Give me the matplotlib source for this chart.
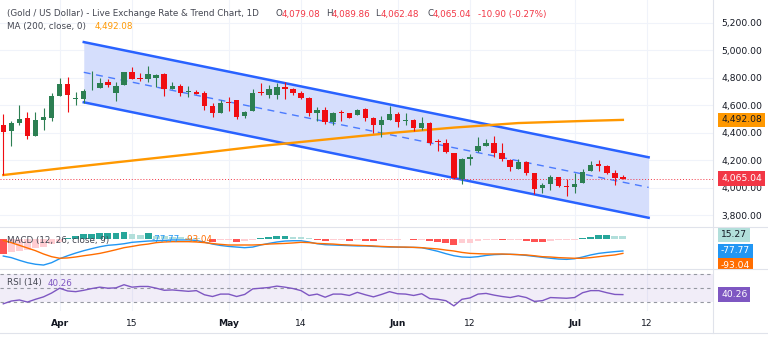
import matplotlib
matplotlib.use("Agg")
import matplotlib.pyplot as plt
import matplotlib.transforms as mtransforms
import numpy as np

# ---- data (daily bars, index 0 = Mar 23) ----
opens = [4455, 4411, 4467, 4503, 4375, 4491, 4508, 4668, 4755, 4645,
         4646, 4716, 4721, 4767, 4685, 4743, 4840, 4797, 4789, 4796,
         4823, 4716, 4738, 4695, 4697, 4685, 4595, 4539, 4624, 4636,
         4520, 4559, 4695, 4673, 4673, 4733, 4714, 4690, 4649, 4539,
         4564, 4479, 4549, 4539, 4527, 4569, 4503, 4455, 4491, 4532,
         4484, 4491, 4435, 4472, 4341, 4326, 4253, 4062, 4207, 4268,
         4302, 4326, 4249, 4200, 4137, 4188, 4103, 3994, 4023, 4074,
         4011, 4001, 4030, 4122, 4171, 4159, 4103, 4079.08]
highs = [4535, 4486, 4600, 4552, 4549, 4576, 4685, 4794, 4801, 4697,
         4719, 4850, 4794, 4789, 4770, 4840, 4874, 4830, 4886, 4826,
         4830, 4765, 4753, 4738, 4709, 4702, 4612, 4636, 4656, 4636,
         4559, 4716, 4758, 4745, 4758, 4765, 4726, 4699, 4661, 4583,
         4583, 4552, 4564, 4544, 4573, 4576, 4515, 4520, 4595, 4552,
         4539, 4496, 4510, 4479, 4350, 4350, 4253, 4212, 4244, 4365,
         4350, 4377, 4321, 4207, 4210, 4193, 4103, 4035, 4089, 4079,
         4060, 4108, 4135, 4193, 4200, 4164, 4127, 4089.86]
lows = [4091, 4302, 4455, 4350, 4375, 4418, 4481, 4668, 4552, 4600,
        4612, 4709, 4721, 4728, 4632, 4743, 4789, 4777, 4770, 4733,
        4668, 4716, 4665, 4661, 4678, 4564, 4510, 4539, 4556, 4498,
        4508, 4559, 4673, 4649, 4644, 4641, 4670, 4644, 4520, 4484,
        4462, 4455, 4486, 4503, 4527, 4486, 4399, 4365, 4491, 4442,
        4455, 4413, 4418, 4309, 4268, 4249, 4062, 4026, 4164, 4261,
        4302, 4219, 4195, 4118, 4137, 4091, 3953, 3962, 3982, 4001,
        3941, 3958, 4030, 4122, 4122, 4098, 4018, 4062.48]
closes = [4401, 4467, 4501, 4377, 4491, 4510, 4668, 4755, 4673, 4652,
          4704, 4720, 4762, 4748, 4741, 4840, 4789, 4792, 4828, 4821,
          4716, 4738, 4690, 4704, 4678, 4593, 4539, 4617, 4612, 4515,
          4552, 4685, 4688, 4714, 4733, 4714, 4685, 4649, 4539, 4564,
          4479, 4539, 4539, 4508, 4564, 4503, 4455, 4491, 4535, 4479,
          4491, 4430, 4472, 4326, 4333, 4261, 4067, 4207, 4219, 4302,
          4321, 4253, 4205, 4152, 4186, 4108, 3989, 4021, 4079, 4011,
          4001, 4023, 4115, 4164, 4159, 4103, 4067, 4065.04]

# 200-day moving average, read at a few bars
ma_idx = [0, 8, 16, 24, 32, 40, 48, 56, 64, 72, 77]
ma_val = [4091, 4145, 4196, 4247, 4302, 4349, 4396, 4436, 4469, 4484, 4492.08]

# trend channel (start bar, end bar, prices)
chan_x = [10, 80.2]
chan_upper = [5058, 4220]
chan_mid = [4838, 4001]
chan_lower = [4620, 3780]

macd = [-110, -120, -137, -152, -162, -167, -152, -127, -108, -91,
        -76, -63, -51, -42, -38, -32, -23, -19, -15, -13,
        -11, -8, -8, -8, -11, -22, -34, -43, -49, -53,
        -57, -53, -40, -30, -21, -15, -13, -13, -21, -32,
        -38, -40, -42, -44, -46, -46, -49, -51, -53, -53,
        -55, -55, -57, -68, -80, -95, -108, -116, -118, -114,
        -106, -101, -99, -99, -101, -106, -112, -118, -124, -129,
        -131, -127, -116, -103, -93, -87, -82, -77.77]
signal = [-11, -25, -42, -59, -76, -97, -114, -124, -122, -116,
          -108, -101, -93, -82, -70, -57, -49, -40, -34, -25,
          -21, -19, -19, -19, -21, -25, -31, -36, -40, -40,
          -40, -40, -38, -34, -32, -30, -27, -23, -25, -30,
          -32, -34, -38, -40, -42, -44, -46, -49, -51, -53,
          -53, -55, -57, -61, -65, -72, -78, -87, -93, -95,
          -97, -97, -97, -99, -101, -103, -108, -114, -116, -120,
          -122, -124, -124, -120, -114, -108, -103, -93.04]
hist = [-99, -82, -78, -72, -61, -51, -36, -19, 6, 17,
        27, 32, 36, 37, 38, 44, 27, 23, 34, 19,
        15, 11, 8, 6, 4, -5, -19, -11, -8, -19,
        -13, -6, 6, 11, 15, 17, 13, 11, 2, -8,
        -15, -11, -8, -15, -8, -12, -15, -11, -8, -6,
        -5, -11, -6, -17, -19, -25, -38, -30, -25, -13,
        -8, -6, -11, -8, -6, -15, -19, -21, -17, -11,
        -8, -6, 4, 13, 21, 22, 17, 15.27]
rsi = [27, 31, 32.5, 29.5, 33.5, 37, 42.5, 49.5, 45.5, 44.5,
       46.5, 49, 51, 49.5, 50, 54.5, 51, 52, 52, 49.5,
       46.5, 47, 46, 45, 46, 40, 37.5, 41, 41, 37.5,
       40.5, 48.5, 49.5, 50.5, 52.5, 51, 49, 46, 39, 41,
       36.5, 41, 41, 39, 43.5, 40, 37, 40.5, 44.5, 41.5,
       41, 39, 41.5, 34.5, 33.5, 31.5, 24, 33.5, 35.5, 41,
       42, 39.5, 37.5, 36, 38.5, 36, 30.5, 31.5, 36, 35.5,
       35, 36, 43, 46, 46, 43, 40.5, 40.26]

tick_pos = [7, 16, 28, 37, 49, 58, 71, 80]
tick_lab = ["Apr", "15", "May", "14", "Jun", "12", "Jul", "12"]
price_ticks = [3800, 4000, 4200, 4400, 4600, 4800, 5000, 5200]

UP = "#2c7f52"
DOWN = "#f00d12"
TXT = "#131722"
GRID = "#f0f3fa"
SEP = "#e0e3eb"

W, H = 768, 344
fig = plt.figure(figsize=(W / 100, H / 100), dpi=100)
plt.rcParams["font.family"] = "DejaVu Sans"


def px(x, y):
    return x / W, 1 - y / H


right = 713 / W
ax = fig.add_axes([0, 1 - 227 / H, right, 227 / H])
axm = fig.add_axes([0, 1 - 269 / H, right, 42 / H], sharex=ax)
axr = fig.add_axes([0, 1 - 311 / H, right, 42 / H], sharex=ax)

n = len(closes)
idx = np.arange(n)
for a in (ax, axm, axr):
    for s in a.spines.values():
        s.set_visible(False)
    a.set_xticks(tick_pos)
    a.grid(axis="x", color=GRID, lw=0.8)
    a.set_axisbelow(True)
    a.tick_params(length=0)
ax.set_xlim(-0.41, 88.2)

# ---- main price panel ----
ax.set_ylim(3713, 5364)
ax.set_yticks(price_ticks)
ax.grid(axis="y", color=GRID, lw=0.8)
ax.yaxis.tick_right()
ax.set_yticklabels([f"{p:,.2f}" for p in price_ticks], color=TXT, fontsize=6.6)
ax.tick_params(axis="y", pad=6)
ax.tick_params(axis="x", labelbottom=False)

ax.fill_between(chan_x, chan_lower, chan_upper, color="#d5defc", lw=0, zorder=1)
ax.plot(chan_x, chan_upper, color="#2962ff", lw=1.8, zorder=2)
ax.plot(chan_x, chan_lower, color="#2962ff", lw=1.8, zorder=2)
ax.plot(chan_x, chan_mid, color="#2962ff", lw=1, ls=(0, (5, 4)), alpha=0.8, zorder=2)

ax.plot(ma_idx, ma_val, color="#ff9800", lw=1.7, zorder=3)
ax.axhline(closes[-1], color="#f23645", lw=0.7, ls=(0, (1, 2)), zorder=2)

for i in range(n):
    c = UP if closes[i] >= opens[i] else DOWN
    ax.vlines(i, lows[i], highs[i], color=c, lw=0.8, zorder=4)
    lo, hi = sorted((opens[i], closes[i]))
    ax.bar(i, max(hi - lo, 4), bottom=lo, width=0.68, color=c, lw=0, zorder=5)

blend = mtransforms.blended_transform_factory(ax.transAxes, ax.transData)
ax.text(1 + 8 / 713, ma_val[-1], f"{ma_val[-1]:,.2f}", transform=blend, ha="left", va="center",
        fontsize=6.6, color=TXT, clip_on=False, zorder=10,
        bbox=dict(boxstyle="square,pad=0.3", fc="#ff9800", ec="none"))
ax.text(1 + 8 / 713, closes[-1], f"{closes[-1]:,.2f}", transform=blend, ha="left", va="center",
        fontsize=6.6, color="white", clip_on=False, zorder=10,
        bbox=dict(boxstyle="square,pad=0.3", fc="#f23645", ec="none"))

# ---- MACD panel ----
axm.set_ylim(-192, 74)
axm.set_yticks([])
axm.tick_params(axis="x", labelbottom=False)
cols = []
for i, h in enumerate(hist):
    prev = hist[i - 1] if i > 0 else h
    if h >= 0:
        cols.append("#26a69a" if h > prev else "#b2dfdb")
    else:
        cols.append("#ffcdd2" if h > prev and i > 0 else "#ff5252")
axm.bar(idx, hist, width=0.85, color=cols, lw=0, zorder=2)
axm.plot(idx, macd, color="#2196f3", lw=1, zorder=3)
axm.plot(idx, signal, color="#ff6d00", lw=1, zorder=3)

bm = mtransforms.blended_transform_factory(axm.transAxes, axm.transData)
axm.text(1 + 8 / 713, hist[-1] + 10, f"{hist[-1]:.2f}", transform=bm, ha="left", va="center",
         fontsize=6.6, color=TXT, clip_on=False, zorder=10,
         bbox=dict(boxstyle="square,pad=0.3", fc="#b2dfdb", ec="none"))
axm.text(1 + 8 / 713, macd[-1], f"{macd[-1]:.2f}", transform=bm, ha="left", va="center",
         fontsize=6.6, color="white", clip_on=False, zorder=10,
         bbox=dict(boxstyle="square,pad=0.3", fc="#2196f3", ec="none"))
low_lab = mtransforms.offset_copy(bm, fig=fig, y=-12, units="dots")
t93 = axm.text(1 + 8 / 713, signal[-1], f"{signal[-1]:.2f}", transform=low_lab, ha="left",
               va="center", fontsize=6.6, color="white", zorder=10,
               bbox=dict(boxstyle="square,pad=0.3", fc="#ff6d00", ec="none"))
clip = mtransforms.TransformedBbox(
    mtransforms.Bbox([[right, 1 - 269 / H], [1, 1 - 227 / H]]), fig.transFigure)
t93.set_clip_on(True)
t93.set_clip_box(clip)
t93._bbox_patch.set_clip_box(clip) if t93.get_bbox_patch() else None

# ---- RSI panel ----
axr.set_ylim(16.6, 77.2)
axr.set_yticks([])
axr.axhspan(30, 70, color="#7e57c2", alpha=0.1, lw=0, zorder=1)
for lvl in (30, 50, 70):
    axr.axhline(lvl, color="#9598a1", lw=0.8, ls=(0, (3, 3)), zorder=2)
axr.plot(idx, rsi, color="#7e57c2", lw=1, zorder=3)
axr.set_xticklabels(tick_lab, fontsize=6.6, color=TXT)
for lab in axr.get_xticklabels():
    if lab.get_text() in ("Apr", "May", "Jun", "Jul"):
        lab.set_fontweight("bold")
axr.tick_params(axis="x", pad=6)
br = mtransforms.blended_transform_factory(axr.transAxes, axr.transData)
axr.text(1 + 8 / 713, rsi[-1], f"{rsi[-1]:.2f}", transform=br, ha="left", va="center",
         fontsize=6.6, color="white", clip_on=False, zorder=10,
         bbox=dict(boxstyle="square,pad=0.3", fc="#7e57c2", ec="none"))

# ---- separators ----
for yy in (227, 269, 333):
    fig.add_artist(plt.Line2D([0, 1], [1 - yy / H] * 2, color=SEP, lw=0.8))
fig.add_artist(plt.Line2D([right, right], [1 - 333 / H, 1], color=SEP, lw=0.8))

# ---- header texts ----
fs = 6.3
fig.text(*px(7, 14), "(Gold / US Dollar) - Live Exchange Rate & Trend Chart, 1D",
         fontsize=fs, color="#434651", va="center")
for x0, letter, val in [(276, "O", "4,079.08"), (326, "H", "4,089.86"),
                        (375, "L", "4,062.48"), (427, "C", "4,065.04")]:
    fig.text(*px(x0, 14), letter, fontsize=fs, color="#434651", va="center")
    fig.text(*px(x0 + 6, 14), val, fontsize=fs, color="#f23645", va="center")
fig.text(*px(478, 14), "-10.90 (-0.27%)", fontsize=fs, color="#f23645", va="center")
fig.text(*px(7, 27), "MA (200, close, 0)", fontsize=fs, color="#434651", va="center")
fig.text(*px(95, 27), "4,492.08", fontsize=fs, color="#ff9800", va="center")
fig.text(*px(7, 240), "MACD (12, 26, close, 9)", fontsize=fs, color="#434651", va="center")
fig.text(*px(152, 240), "-77.77", fontsize=fs, color="#2196f3", va="center")
fig.text(*px(185, 240), "-93.04", fontsize=fs, color="#ff6d00", va="center")
fig.text(*px(7, 283), "RSI (14)", fontsize=fs, color="#434651", va="center")
fig.text(*px(48, 283), "40.26", fontsize=fs, color="#7e57c2", va="center")

fig.savefig("out.png", dpi=100)
